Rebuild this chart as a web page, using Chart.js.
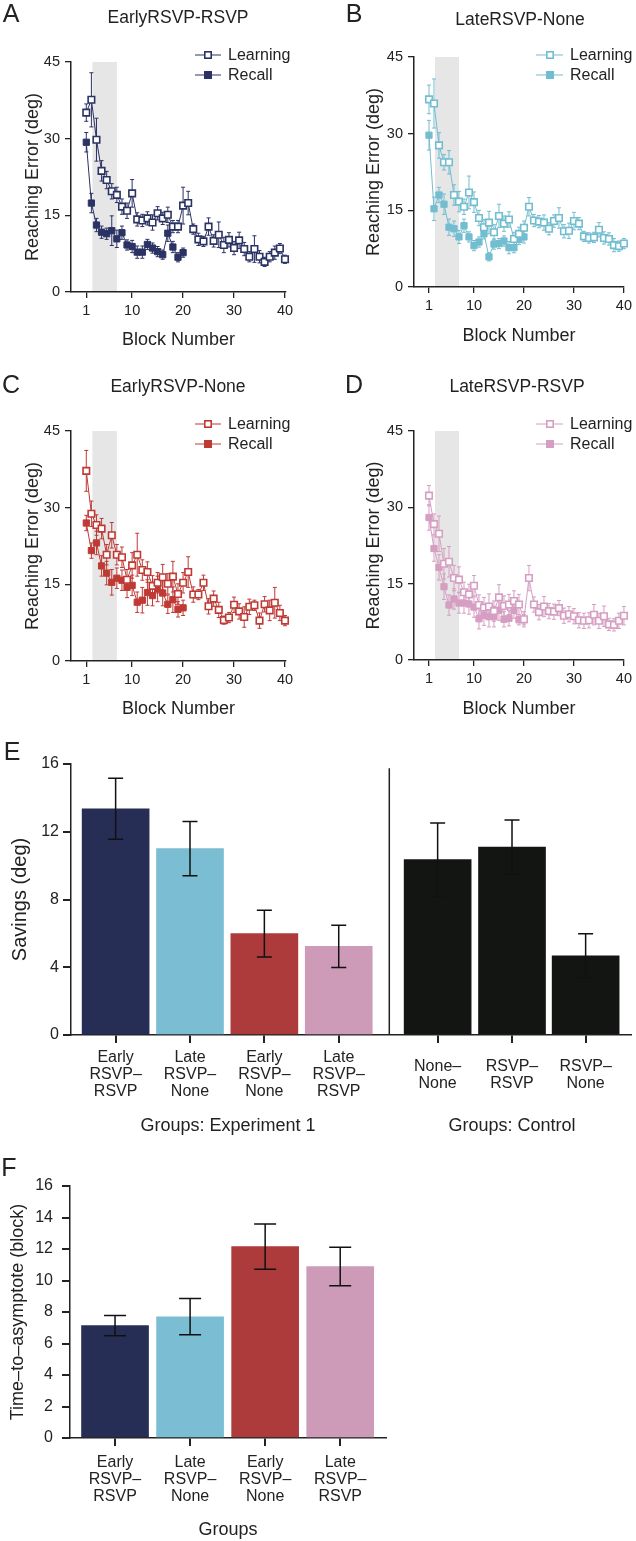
<!DOCTYPE html>
<html>
<head>
<meta charset="utf-8">
<title>Reaching error, savings and time-to-asymptote</title>
<script src="https://cdn.jsdelivr.net/npm/chart.js@4.4.1/dist/chart.umd.min.js"></script>
<style>
  html, body { margin: 0; padding: 0; background: #fff; }
  #page { position: relative; width: 636px; height: 1541px; overflow: hidden; font-family: "Liberation Sans", Arial, Helvetica, sans-serif; color: #222; }
  .panel { position: absolute; }
  .txt { position: absolute; white-space: nowrap; transform: translate(-50%, -50%); line-height: 1; }
  .letter { font-size: 25px; }
  .title { font-size: 17.5px; }
  .group { font-size: 18px; }
</style>
</head>
<body>
<div id="page">
  <div class="panel" style="left:0;top:0;width:318px;height:360px"><canvas id="chartA"></canvas></div>
  <div class="panel" style="left:318px;top:0;width:318px;height:360px"><canvas id="chartB"></canvas></div>
  <div class="panel" style="left:0;top:369px;width:318px;height:360px"><canvas id="chartC"></canvas></div>
  <div class="panel" style="left:318px;top:369px;width:318px;height:360px"><canvas id="chartD"></canvas></div>
  <div class="panel" style="left:0;top:740px;width:636px;height:400px"><canvas id="chartE"></canvas></div>
  <div class="panel" style="left:0;top:1160px;width:400px;height:381px"><canvas id="chartF"></canvas></div>

  <div class="txt letter" style="left:11px;top:13px">A</div>
  <div class="txt title" style="left:178px;top:18px">EarlyRSVP-RSVP</div>
  <div class="txt letter" style="left:354px;top:13px">B</div>
  <div class="txt title" style="left:520px;top:20px">LateRSVP-None</div>
  <div class="txt letter" style="left:11px;top:384px">C</div>
  <div class="txt title" style="left:178px;top:387px">EarlyRSVP-None</div>
  <div class="txt letter" style="left:354px;top:384px">D</div>
  <div class="txt title" style="left:517px;top:387px">LateRSVP-RSVP</div>
  <div class="txt letter" style="left:12px;top:751px">E</div>
  <div class="txt group" style="left:228px;top:1125px">Groups: Experiment 1</div>
  <div class="txt group" style="left:512px;top:1125px">Groups: Control</div>
  <div class="txt letter" style="left:9px;top:1167px">F</div>
</div>

<script>
// block numbers and axis ticks
const blocks = [1, 2, 3, 4, 5, 6, 7, 8, 9, 10, 11, 12, 13, 14, 15, 16, 17, 18, 19, 20,
  21, 22, 23, 24, 25, 26, 27, 28, 29, 30, 31, 32, 33, 34, 35, 36, 37, 38, 39, 40]
const blockTicks = [1, 10, 20, 30, 40]
const errorTicks = [0, 15, 30, 45]
const rsvpWindow = [2.2, 7.0]

// A: EarlyRSVP-RSVP
const learnA = [35.1, 37.6, 29.8, 23.7, 21.9, 19.7, 19.0, 16.7, 15.9, 19.3,
  14.2, 14.0, 14.4, 13.6, 15.4, 14.4, 15.1, 12.8, 12.8, 16.9,
  17.4, 12.3, 10.3, 9.9, 12.8, 10.0, 11.2, 9.2, 10.2, 8.6,
  10.1, 8.4, 6.9, 8.4, 6.9, 5.9, 6.9, 7.7, 8.5, 6.4]
const learnAErr = [1.7, 5.3, 4.2, 2.0, 1.7, 1.5, 1.5, 1.5, 1.5, 2.7,
  1.3, 1.2, 1.3, 1.5, 1.3, 1.2, 1.5, 1.2, 1.2, 3.6,
  2.3, 1.0, 1.2, 1.0, 1.7, 1.2, 2.5, 1.5, 1.4, 1.3,
  1.6, 1.3, 1.0, 2.6, 1.2, 0.9, 1.0, 1.3, 1.0, 0.8]
const recallA = [29.3, 17.4, 13.1, 11.7, 11.4, 12.0, 10.4, 11.6, 9.2, 8.9,
  7.8, 7.8, 9.3, 8.6, 7.9, 7.3, 11.5, 8.8, 6.8, 7.7]
const recallAErr = [1.9, 1.9, 1.3, 1.2, 1.1, 2.9, 1.7, 1.3, 1.0, 1.2,
  1.2, 1.2, 1.0, 1.0, 1.0, 0.9, 1.6, 1.1, 0.9, 0.9]

// B: LateRSVP-None
const learnB = [36.7, 35.9, 27.7, 24.4, 24.4, 18.0, 16.7, 15.7, 18.5, 16.6,
  13.5, 11.7, 12.6, 10.7, 13.9, 12.4, 13.2, 9.4, 10.4, 11.6,
  15.7, 13.0, 12.8, 12.6, 11.4, 12.9, 13.5, 10.9, 11.0, 12.9,
  12.4, 9.9, 9.6, 9.7, 11.2, 9.6, 9.4, 8.2, 8.0, 8.5]
const learnBErr = [2.8, 4.8, 2.5, 1.5, 2.3, 2.0, 2.0, 1.5, 3.2, 2.0,
  1.5, 1.5, 2.2, 1.5, 2.3, 1.5, 1.5, 1.3, 1.3, 1.3,
  1.8, 1.2, 1.2, 1.5, 1.2, 1.2, 2.0, 1.3, 1.5, 1.7,
  1.2, 1.0, 1.0, 1.0, 1.4, 1.2, 1.2, 1.3, 1.0, 1.0]
const recallB = [29.7, 15.3, 18.0, 16.2, 11.7, 11.4, 9.8, 12.0, 9.8, 8.1,
  8.8, 10.4, 5.9, 8.4, 8.5, 9.0, 7.7, 7.7, 9.3, 9.8]
const recallBErr = [2.9, 2.3, 1.5, 2.0, 1.6, 1.5, 1.3, 1.3, 1.0, 1.0,
  1.0, 1.0, 0.8, 1.0, 1.0, 1.0, 1.2, 1.0, 1.0, 1.2]

// C: EarlyRSVP-None
const learnC = [37.2, 28.8, 26.6, 25.9, 20.8, 24.6, 20.8, 20.3, 15.9, 18.7,
  20.8, 17.8, 17.4, 14.7, 15.3, 16.4, 15.1, 16.5, 13.1, 15.3,
  17.4, 13.0, 13.0, 15.3, 10.7, 12.2, 10.0, 8.0, 8.5, 11.0,
  9.7, 8.6, 10.6, 10.9, 7.9, 11.1, 9.9, 11.4, 9.4, 7.9]
const learnCErr = [4.0, 2.5, 2.0, 2.0, 2.0, 2.5, 2.0, 2.0, 2.0, 2.5,
  4.2, 2.0, 2.0, 2.0, 2.0, 2.5, 2.0, 3.0, 2.0, 2.0,
  3.0, 1.5, 1.0, 1.5, 1.5, 1.5, 1.5, 0.8, 1.0, 1.5,
  1.5, 2.0, 1.5, 1.0, 1.5, 1.5, 2.0, 3.0, 1.5, 1.0]
const recallC = [27.0, 21.6, 23.1, 18.6, 17.2, 15.4, 16.2, 15.8, 14.4, 14.8,
  11.5, 11.9, 13.4, 12.8, 14.1, 13.3, 11.1, 12.0, 10.1, 10.4]
const recallCErr = [1.5, 1.5, 2.3, 2.0, 2.3, 2.5, 2.0, 2.0, 2.0, 2.0,
  2.0, 2.5, 2.5, 2.0, 2.5, 2.5, 1.8, 2.5, 1.5, 1.5]

// D: LateRSVP-RSVP
const learnD = [32.3, 26.7, 24.8, 18.9, 19.3, 16.1, 15.8, 13.3, 12.9, 14.6,
  10.8, 10.3, 10.5, 9.6, 12.3, 10.6, 10.9, 11.6, 10.9, 8.0,
  16.1, 10.9, 9.4, 10.5, 9.6, 9.5, 10.2, 8.7, 9.0, 8.6,
  7.8, 7.7, 7.8, 8.9, 7.7, 8.6, 7.0, 6.9, 7.7, 8.7]
const learnDErr = [2.0, 2.0, 3.5, 3.0, 3.0, 2.5, 2.5, 2.0, 2.0, 2.0,
  2.0, 2.0, 2.5, 2.0, 2.5, 2.0, 2.0, 2.0, 2.0, 1.5,
  2.5, 1.5, 1.5, 2.0, 1.5, 1.5, 1.5, 1.5, 1.5, 1.5,
  1.5, 1.5, 1.5, 2.0, 1.5, 2.0, 1.2, 1.2, 1.5, 1.8]
const recallD = [28.0, 21.9, 18.2, 14.4, 10.8, 12.0, 11.2, 11.2, 11.0, 10.4,
  8.1, 8.8, 8.5, 8.5, 9.8, 8.0, 8.2, 9.7, 7.9, 7.9]
const recallDErr = [2.5, 2.5, 2.5, 2.5, 2.0, 2.0, 2.0, 2.0, 2.0, 2.0,
  2.0, 2.0, 2.0, 2.0, 2.0, 1.5, 1.5, 1.5, 1.0, 1.0]

// E: savings
const savingsLabels = [
  ["Early", "RSVP\u2013", "RSVP"], ["Late", "RSVP\u2013", "None"],
  ["Early", "RSVP\u2013", "None"], ["Late", "RSVP\u2013", "RSVP"],
  ["None\u2013", "None"], ["RSVP\u2013", "RSVP"], ["RSVP\u2013", "None"]
]
const savingsPos = [1, 2, 3, 4, 5.33, 6.33, 7.32]
const savings = [13.36, 11.0, 5.99, 5.23, 10.35, 11.1, 4.68]
const savingsErr = [1.8, 1.6, 1.38, 1.25, 2.16, 1.6, 1.3]
const savingsTicks = [0, 4, 8, 12, 16]
const groupSplit = 4.68

// F: time to asymptote
const asymLabels = [
  ["Early", "RSVP\u2013", "RSVP"], ["Late", "RSVP\u2013", "None"],
  ["Early", "RSVP\u2013", "None"], ["Late", "RSVP\u2013", "RSVP"]
]
const asymPos = [1, 2, 3, 4]
const asymptote = [7.13, 7.70, 12.15, 10.89]
const asymptoteErr = [0.64, 1.15, 1.43, 1.22]
const asymTicks = [0, 2, 4, 6, 8, 10, 12, 14, 16]

const NAVY = "#262e56", CYAN = "#7bbdd2", RED = "#ae3b3b", PINK = "#cd9ab8", BLACK = "#131513"
const INK = "#222"

Chart.defaults.font.family = '"Liberation Sans", Arial, Helvetica, sans-serif'
Chart.defaults.color = INK

function points(xs, ys) {
  return ys.map((v, i) => ({ x: xs[i], y: v }))
}

function drawErrorBars(chart, capWidth, lineWidth) {
  const { ctx } = chart
  const yScale = chart.scales.y
  chart.data.datasets.forEach((ds, i) => {
    if (!ds.errors) return
    const meta = chart.getDatasetMeta(i)
    ctx.save()
    ctx.strokeStyle = ds.errorColor || INK
    ctx.lineWidth = lineWidth
    meta.data.forEach((el, j) => {
      const v = ds.data[j].y
      const e = ds.errors[j]
      const top = yScale.getPixelForValue(v + e)
      const bot = yScale.getPixelForValue(v - e)
      ctx.beginPath()
      ctx.moveTo(el.x, top)
      ctx.lineTo(el.x, bot)
      ctx.moveTo(el.x - capWidth / 2, top)
      ctx.lineTo(el.x + capWidth / 2, top)
      ctx.moveTo(el.x - capWidth / 2, bot)
      ctx.lineTo(el.x + capWidth / 2, bot)
      ctx.stroke()
    })
    ctx.restore()
  })
}

function linePanelDecor(c) {
  return {
    id: "linePanelDecor",
    beforeDatasetsDraw(chart) {
      const { ctx, scales: { x, y } } = chart
      const x0 = x.getPixelForValue(rsvpWindow[0])
      const x1 = x.getPixelForValue(rsvpWindow[1])
      const y0 = y.getPixelForValue(45)
      const y1 = y.getPixelForValue(0)
      ctx.save()
      ctx.fillStyle = "#e6e6e6"
      ctx.fillRect(x0, y0, x1 - x0, y1 - y0 - 1)
      ctx.restore()
      drawErrorBars(chart, 4, 1)
    },
    afterDraw(chart) {
      // legend: line - square - line, then label
      const { ctx } = chart
      const lg = c.legend
      ctx.save()
      chart.data.datasets.forEach((ds, i) => {
        const yy = lg.y + i * 20
        ctx.strokeStyle = c.color
        ctx.lineWidth = 1
        ctx.beginPath()
        ctx.moveTo(lg.x0, yy)
        ctx.lineTo(lg.x1, yy)
        ctx.stroke()
        ctx.fillStyle = ds.pointBackgroundColor
        ctx.fillRect(lg.xs - 3.2, yy - 3.2, 6.4, 6.4)
        ctx.lineWidth = 1.6
        ctx.strokeRect(lg.xs - 3.2, yy - 3.2, 6.4, 6.4)
        ctx.fillStyle = INK
        ctx.font = '16px "Liberation Sans", Arial, sans-serif'
        ctx.textBaseline = "middle"
        ctx.fillText(ds.label, lg.xt, yy + 1)
      })
      ctx.restore()
    }
  }
}

function axisStyle(tickLength, width) {
  return {
    grid: { drawOnChartArea: false, drawTicks: true, tickLength: tickLength, color: INK, lineWidth: width, offset: false },
    border: { display: true, color: INK, width: 1.5 }
  }
}

function buildLineChart(id, c) {
  const ctx = document.getElementById(id).getContext("2d")
  const errColor = c.color
  return new Chart(ctx, {
    type: "line",
    data: {
      datasets: [
        {
          label: "Learning", data: points(blocks, c.learn), errors: c.learnErr, errorColor: errColor,
          borderColor: c.color, borderWidth: 1, pointStyle: "rect", pointRadius: 4.6, pointBorderWidth: 1.6,
          pointBackgroundColor: "#fff", pointBorderColor: c.color, clip: false, tension: 0
        },
        {
          label: "Recall", data: points(blocks, c.recall), errors: c.recallErr, errorColor: errColor,
          borderColor: c.color, borderWidth: 1, pointStyle: "rect", pointRadius: 4.4, pointBorderWidth: 1,
          pointBackgroundColor: c.color, pointBorderColor: c.color, clip: false, tension: 0
        }
      ]
    },
    options: {
      responsive: true,
      maintainAspectRatio: false,
      animation: false,
      layout: { padding: c.padding },
      plugins: { legend: { display: false }, tooltip: { enabled: false } },
      scales: {
        x: {
          type: "linear", min: -2, max: c.xMax, offset: false,
          afterBuildTicks: s => { s.ticks = blockTicks.map(v => ({ value: v })) },
          afterFit: s => { s.height = c.xH },
          ...axisStyle(6, 1.3),
          ticks: { font: { size: 14.5 }, padding: 4, maxRotation: 0, autoSkip: false, color: INK },
          title: { display: true, text: "Block Number", font: { size: 18 }, color: INK }
        },
        y: {
          type: "linear", min: 0, max: 45,
          afterBuildTicks: s => { s.ticks = errorTicks.map(v => ({ value: v })) },
          afterFit: s => { s.width = c.yW },
          ...axisStyle(6, 1.3),
          ticks: { font: { size: 14.5 }, padding: 5, color: INK },
          title: { display: true, text: "Reaching Error (deg)", font: { size: 18 }, color: INK }
        }
      }
    },
    plugins: [linePanelDecor(c)]
  })
}

function barDecor(capWidth, split) {
  return {
    id: "barDecor",
    afterDatasetsDraw(chart) {
      drawErrorBars(chart, capWidth, 1.5)
      if (split) {
        const { ctx, scales: { x, y } } = chart
        const sx = x.getPixelForValue(split.x)
        ctx.save()
        ctx.strokeStyle = INK
        ctx.lineWidth = 1.5
        ctx.beginPath()
        ctx.moveTo(sx, y.getPixelForValue(split.top))
        ctx.lineTo(sx, y.getPixelForValue(0))
        ctx.stroke()
        ctx.restore()
      }
    }
  }
}

function buildBarChart(id, c) {
  const ctx = document.getElementById(id).getContext("2d")
  return new Chart(ctx, {
    type: "bar",
    data: {
      datasets: [{
        data: points(c.pos, c.values), errors: c.errors, errorColor: "#111",
        backgroundColor: c.colors, borderWidth: 0, barThickness: 67
      }]
    },
    options: {
      responsive: true,
      maintainAspectRatio: false,
      animation: false,
      layout: { padding: c.padding },
      plugins: { legend: { display: false }, tooltip: { enabled: false } },
      scales: {
        x: {
          type: "linear", min: c.xMin, max: c.xMax, offset: false,
          afterBuildTicks: s => { s.ticks = c.pos.map(v => ({ value: v })) },
          afterFit: s => { s.height = c.xH },
          ...axisStyle(8, 2),
          ticks: {
            callback: (v, i) => c.labels[i],
            font: { size: 16, lineHeight: "17px" }, padding: c.tickPad, crossAlign: "center",
            maxRotation: 0, autoSkip: false, color: INK
          },
          title: c.xTitle
            ? { display: true, text: c.xTitle, font: { size: 18 }, color: INK, padding: { top: 0, bottom: 0 } }
            : { display: false }
        },
        y: {
          type: "linear", min: 0, max: 16,
          afterBuildTicks: s => { s.ticks = c.yTicks.map(v => ({ value: v })) },
          afterFit: s => { s.width = c.yW },
          ...axisStyle(8, 2),
          ticks: { font: { size: 16 }, padding: c.yPad, color: INK },
          title: { display: true, text: c.yTitle, font: { size: c.yTitleSize }, color: INK }
        }
      }
    },
    plugins: [barDecor(c.cap, c.split)]
  })
}

window.addEventListener("load", () => {
  const legendLeft = { x0: 195, x1: 221, xs: 208, xt: 228, y: 55 }
  const legendRight = { x0: 218, x1: 245, xs: 232, xt: 252, y: 55 }

  buildLineChart("chartA", {
    learn: learnA, learnErr: learnAErr, recall: recallA, recallErr: recallAErr, color: "#2b3264",
    padding: { left: 18, right: 32, top: 62, bottom: 5 }, yW: 53, xH: 63, xMax: 40.2, legend: legendLeft
  })
  buildLineChart("chartB", {
    learn: learnB, learnErr: learnBErr, recall: recallB, recallErr: recallBErr, color: "#72bdd0",
    padding: { left: 41, right: 8, top: 57, bottom: 9 }, yW: 55, xH: 64, xMax: 40, legend: legendRight
  })
  buildLineChart("chartC", {
    learn: learnC, learnErr: learnCErr, recall: recallC, recallErr: recallCErr, color: "#bf3a34",
    padding: { left: 18, right: 32, top: 62, bottom: 5 }, yW: 53, xH: 63, xMax: 40.2, legend: legendLeft
  })
  buildLineChart("chartD", {
    learn: learnD, learnErr: learnDErr, recall: recallD, recallErr: recallDErr, color: "#d69ec2",
    padding: { left: 41, right: 8, top: 62, bottom: 5 }, yW: 55, xH: 64, xMax: 40, legend: legendRight
  })

  buildBarChart("chartE", {
    pos: savingsPos, values: savings, errors: savingsErr, labels: savingsLabels,
    colors: [NAVY, CYAN, RED, PINK, BLACK, BLACK, BLACK],
    xMin: 0.4, xMax: 7.93, yTicks: savingsTicks, yTitle: "Savings (deg)", yTitleSize: 20,
    padding: { left: 4, right: 5, top: 24, bottom: 5 }, yW: 67, xH: 100, tickPad: 15, yPad: 4,
    cap: 15, split: { x: groupSplit, top: 15.75 }
  })
  buildBarChart("chartF", {
    pos: asymPos, values: asymptote, errors: asymptoteErr, labels: asymLabels,
    colors: [NAVY, CYAN, RED, PINK],
    xMin: 0.4, xMax: 4.61, yTicks: asymTicks, yTitle: "Time\u2013to\u2013asymptote (block)", yTitleSize: 18,
    xTitle: "Groups",
    padding: { left: 3, right: 14, top: 26, bottom: 0 }, yW: 67, xH: 103, tickPad: 17, yPad: 9,
    cap: 22, split: null
  })
})
</script>
</body>
</html>
